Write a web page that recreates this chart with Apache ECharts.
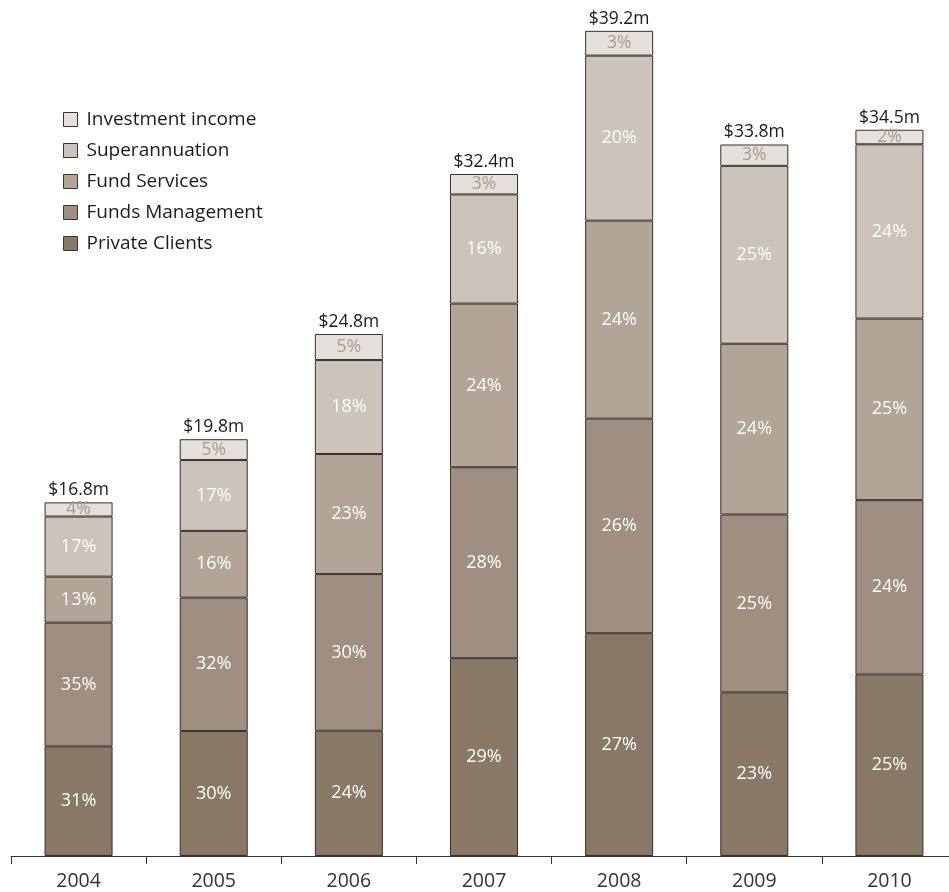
<!DOCTYPE html>
<html><head><meta charset="utf-8">
<script src="https://cdn.jsdelivr.net/npm/echarts@6/dist/echarts.min.js"></script>
<style>html,body{margin:0;padding:0;background:#fff;overflow:hidden}#c{width:960px;height:892px}</style>
</head><body><div id="c"></div>
<script>
var years = ['2004','2005','2006','2007','2008','2009','2010'];
var totals = [16.8, 19.8, 24.8, 32.4, 39.2, 33.8, 34.5];
var totalLabels = ['$16.8m','$19.8m','$24.8m','$32.4m','$39.2m','$33.8m','$34.5m'];
var privateClients = [31, 30, 24, 29, 27, 23, 25];
var fundsManagement = [35, 32, 30, 28, 26, 25, 24];
var fundServices = [13, 16, 23, 24, 24, 24, 25];
var superannuation = [17, 17, 18, 16, 20, 25, 24];
var investmentIncome = [4, 5, 5, 3, 3, 3, 2];

var FONT = '"Open Sans", "Noto Sans", sans-serif';
var defs = [
  {name:'Private Clients', pct: privateClients, color:'#8a7866', label:'#ffffff', fs:18, off:-2},
  {name:'Funds Management', pct: fundsManagement, color:'#a08f80', label:'#ffffff', fs:18, off:-2},
  {name:'Fund Services', pct: fundServices, color:'#b2a598', label:'#ffffff', fs:18, off:-2},
  {name:'Superannuation', pct: superannuation, color:'#ccc3ba', label:'#ffffff', fs:18, off:-2},
  {name:'Investment income', pct: investmentIncome, color:'#e5e0dc', label:'#a89b8e', fs:17.5, off:0}
];
var series = defs.map(function(d){
  return {
    name: d.name, type:'bar', stack:'t', barWidth:68,
    data: d.pct.map(function(p,i){ return {value: totals[i]*p/100, pct:p}; }),
    itemStyle:{color:d.color, borderColor:'#36302b', borderWidth:1},
    label:{show:true, position:'inside', offset:[0,d.off], color:d.label, fontFamily:FONT, fontSize:d.fs,
      formatter:function(prm){ return d.pct[prm.dataIndex] + '%'; }},
    labelLayout:{hideOverlap:false},
    emphasis:{disabled:true}, animation:false
  };
});
series.push({
  name:'total', type:'bar', stack:'t', barWidth:68,
  data: totals.map(function(){ return 0; }),
  itemStyle:{color:'transparent', borderWidth:0},
  label:{show:true, position:'top', distance:3, color:'#1a1a1a', fontFamily:FONT, fontSize:17.5,
    formatter:function(prm){ return totalLabels[prm.dataIndex]; }},
  animation:false
});
var chart = echarts.init(document.getElementById('c'));
chart.setOption({
  animation:false,
  grid:{left:11, top:14, width:946, height:842},
  legend:{
    orient:'vertical', left:58, top:105, itemWidth:14, itemHeight:14, itemGap:12,
    icon:'rect',
    data:['Investment income','Superannuation','Fund Services','Funds Management','Private Clients'],
    itemStyle:{borderColor:'#3a3530', borderWidth:1},
    textStyle:{fontFamily:FONT, fontSize:19, color:'#1a1a1a', padding:[0,0,0,4]}
  },
  xAxis:{
    type:'category', data:years,
    axisLine:{lineStyle:{color:'#333', width:1}},
    axisTick:{show:true, length:8, lineStyle:{color:'#333'}},
    axisLabel:{fontFamily:FONT, fontSize:19.5, color:'#333', margin:15}
  },
  yAxis:{type:'value', min:0, max:40, show:false, splitLine:{show:false}},
  series: series
});
</script></body></html>
